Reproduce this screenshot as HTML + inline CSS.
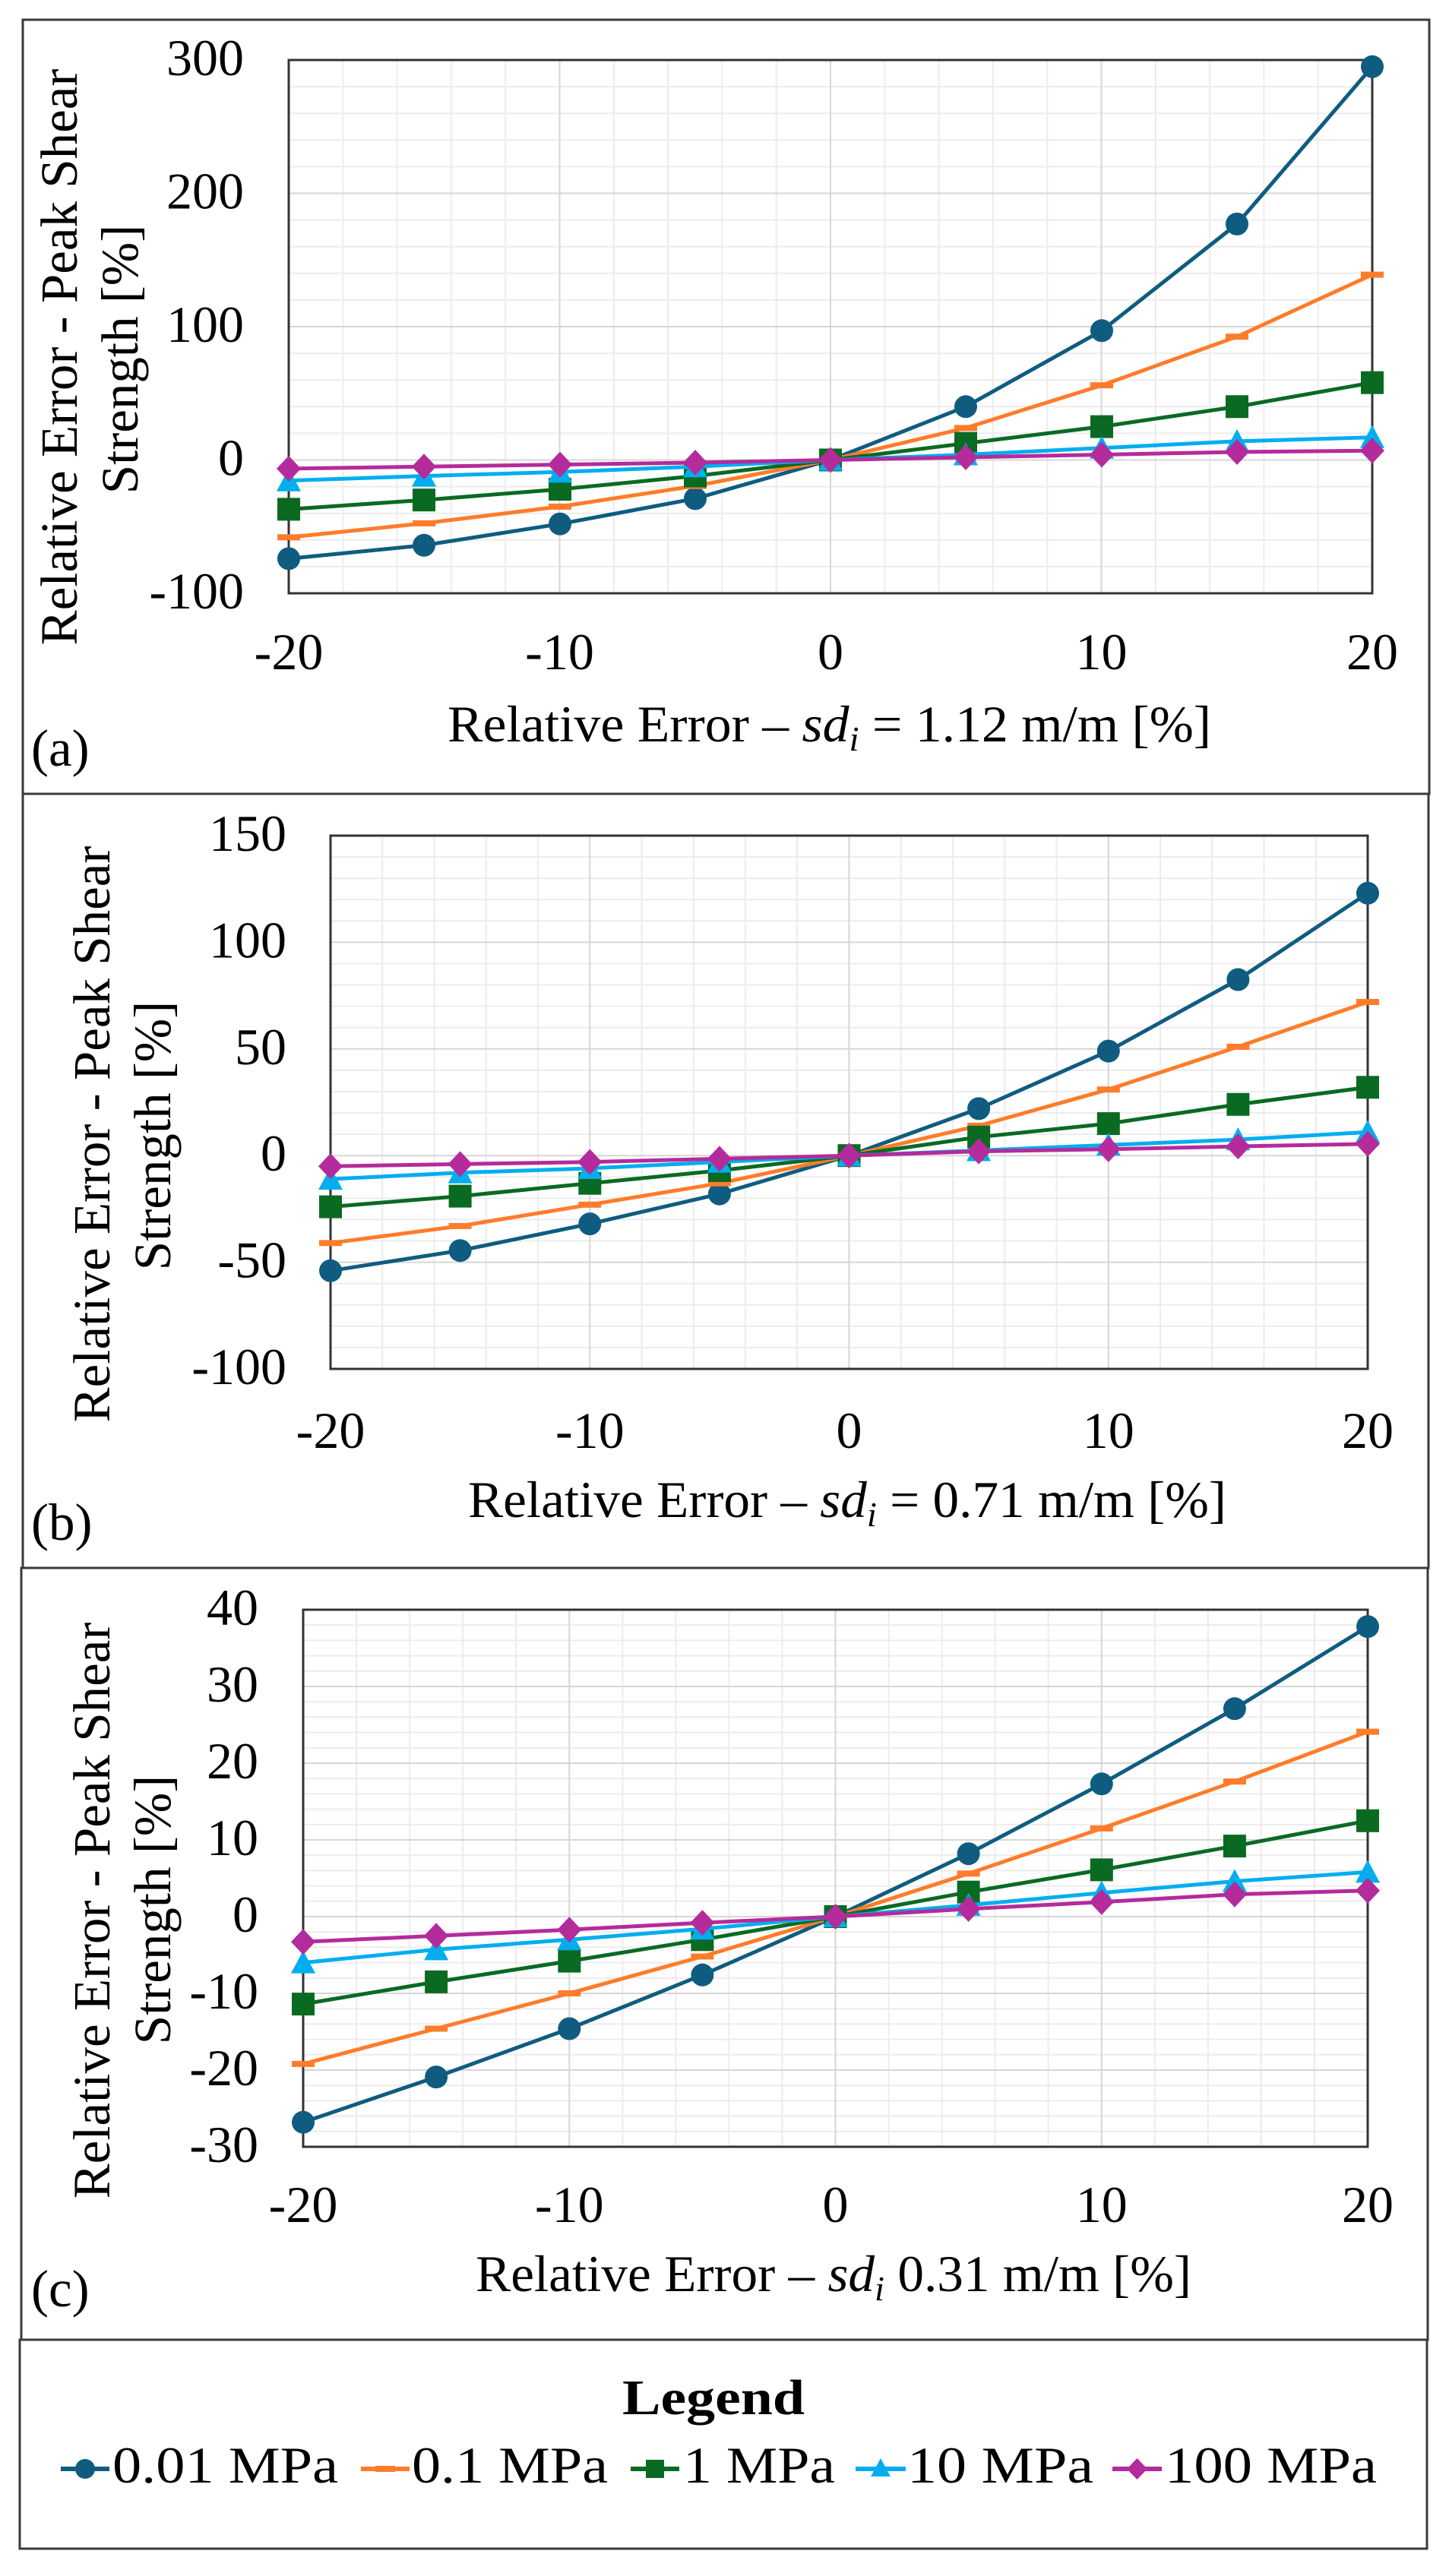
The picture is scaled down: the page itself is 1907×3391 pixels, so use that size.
<!DOCTYPE html>
<html>
<head>
<meta charset="utf-8">
<style>
  html,body{margin:0;padding:0;background:#fff;}
  svg{display:block;}
  text{font-family:"Liberation Serif","Times New Roman",serif;fill:#000;}
</style>
</head>
<body>
<svg width="1907" height="3391" viewBox="0 0 1907 3391" xmlns="http://www.w3.org/2000/svg">
<defs>
  <marker id="mC" markerUnits="userSpaceOnUse" markerWidth="34" markerHeight="34" refX="17" refY="17" overflow="visible"><circle cx="17" cy="17" r="15" fill="#0f5c80"/></marker>
  <marker id="mD" markerUnits="userSpaceOnUse" markerWidth="34" markerHeight="34" refX="17" refY="17" overflow="visible"><rect x="2" y="13" width="30" height="8" fill="#ff7c2a"/></marker>
  <marker id="mS" markerUnits="userSpaceOnUse" markerWidth="34" markerHeight="34" refX="17" refY="17" overflow="visible"><rect x="2" y="2" width="30" height="30" fill="#0a6a22"/></marker>
  <marker id="mT" markerUnits="userSpaceOnUse" markerWidth="34" markerHeight="34" refX="17" refY="17" overflow="visible"><polygon points="17,1 33,31 1,31" fill="#00aeef"/></marker>
  <marker id="mM" markerUnits="userSpaceOnUse" markerWidth="34" markerHeight="34" refX="17" refY="17" overflow="visible"><polygon points="17,0 33,17 17,34 1,17" fill="#b42b9c"/></marker>
</defs>

<!-- Panel borders -->
<rect x="30" y="26" width="1851" height="1019" fill="none" stroke="#3a3a3a" stroke-width="3"/>
<rect x="30" y="1045" width="1850" height="1019" fill="none" stroke="#3a3a3a" stroke-width="3"/>
<rect x="28" y="2064" width="1851" height="1016" fill="none" stroke="#3a3a3a" stroke-width="3"/>
<rect x="26" y="3080" width="1852" height="275" fill="none" stroke="#3a3a3a" stroke-width="3"/>

<!-- ================= PANEL A ================= -->
<g fill="none" stroke-width="2">
  <path stroke="#ececec" d="M451.3 79V781M522.6 79V781M593.9 79V781M665.2 79V781M807.8 79V781M879.1 79V781M950.4 79V781M1021.7 79V781M1164.3 79V781M1235.6 79V781M1306.9 79V781M1378.2 79V781M1520.8 79V781M1592.1 79V781M1663.4 79V781M1734.7 79V781
  M380 114.1H1806M380 149.2H1806M380 184.3H1806M380 219.4H1806M380 289.6H1806M380 324.7H1806M380 359.8H1806M380 394.9H1806M380 465.1H1806M380 500.2H1806M380 535.3H1806M380 570.4H1806M380 640.6H1806M380 675.7H1806M380 710.8H1806M380 745.9H1806"/>
  <path stroke="#d6d6d6" d="M736.5 79V781M1093 79V781M1449.5 79V781M380 254.5H1806M380 430H1806M380 605.5H1806"/>
</g>
<rect x="380" y="79" width="1426" height="702" fill="none" stroke="#333" stroke-width="3"/>
<g fill="none" stroke-width="5" stroke-linejoin="round">
  <polyline stroke="#0f5c80" marker-start="url(#mC)" marker-mid="url(#mC)" marker-end="url(#mC)" points="380,735.4 558,717.8 737,689.7 915,656.4 1093,605.5 1271,535.3 1450,435.3 1628,294.9 1806,87.8"/>
  <polyline stroke="#ff7c2a" marker-start="url(#mD)" marker-mid="url(#mD)" marker-end="url(#mD)" points="380,707.3 558,688.9 737,666.9 915,639.7 1093,605.5 1271,563.4 1450,507.2 1628,443.2 1806,361.6"/>
  <polyline stroke="#0a6a22" marker-start="url(#mS)" marker-mid="url(#mS)" marker-end="url(#mS)" points="380,670.4 558,658.2 737,644.1 915,626.6 1093,605.5 1271,583.6 1450,561.6 1628,535.3 1806,503.7"/>
  <polyline stroke="#00aeef" marker-start="url(#mT)" marker-mid="url(#mT)" marker-end="url(#mT)" points="380,632.7 558,626.6 737,621.3 915,614.3 1093,605.5 1271,598.5 1450,589.7 1628,580.9 1806,575.7"/>
  <polyline stroke="#b42b9c" marker-start="url(#mM)" marker-mid="url(#mM)" marker-end="url(#mM)" points="380,616.9 558,614.3 737,611.6 915,609 1093,605.5 1271,602 1450,598.5 1628,595 1806,593.2"/>
</g>
<g font-size="68" text-anchor="end">
  <text x="321" y="99">300</text>
  <text x="321" y="274.5">200</text>
  <text x="321" y="450">100</text>
  <text x="321" y="625.5">0</text>
  <text x="321" y="801">-100</text>
</g>
<g font-size="68" text-anchor="middle">
  <text x="380" y="881">-20</text>
  <text x="736.5" y="881">-10</text>
  <text x="1093" y="881">0</text>
  <text x="1449.5" y="881">10</text>
  <text x="1806" y="881">20</text>
</g>
<g font-size="69" text-anchor="middle">
  <text transform="translate(101,470) rotate(-90)">Relative Error - Peak Shear</text>
  <text transform="translate(181,473) rotate(-90)">Strength [%]</text>
</g>
<text x="589" y="976" font-size="68" textLength="1005" lengthAdjust="spacingAndGlyphs">Relative Error – <tspan font-style="italic">sd</tspan><tspan font-style="italic" font-size="46" dy="12">i</tspan><tspan dy="-12"> = 1.12 m/m [%]</tspan></text>
<text x="41" y="1008" font-size="69">(a)</text>

<!-- ================= PANEL B ================= -->
<g fill="none" stroke-width="2">
  <path stroke="#ececec" d="M503.25 1100V1802M571.5 1100V1802M639.75 1100V1802M708 1100V1802M844.5 1100V1802M912.75 1100V1802M981 1100V1802M1049.25 1100V1802M1185.75 1100V1802M1254 1100V1802M1322.25 1100V1802M1390.5 1100V1802M1527 1100V1802M1595.25 1100V1802M1663.5 1100V1802M1731.75 1100V1802
  M435 1128.1H1800M435 1156.2H1800M435 1184.2H1800M435 1212.3H1800M435 1268.5H1800M435 1296.6H1800M435 1324.6H1800M435 1352.7H1800M435 1408.9H1800M435 1437H1800M435 1465H1800M435 1493.1H1800M435 1549.3H1800M435 1577.4H1800M435 1605.4H1800M435 1633.5H1800M435 1689.7H1800M435 1717.8H1800M435 1745.8H1800M435 1773.9H1800"/>
  <path stroke="#d6d6d6" d="M776.25 1100V1802M1117.5 1100V1802M1458.75 1100V1802M435 1240.4H1800M435 1380.8H1800M435 1521.2H1800M435 1661.6H1800"/>
</g>
<rect x="435" y="1100" width="1365" height="702" fill="none" stroke="#333" stroke-width="3"/>
<g fill="none" stroke-width="5" stroke-linejoin="round">
  <polyline stroke="#0f5c80" marker-start="url(#mC)" marker-mid="url(#mC)" marker-end="url(#mC)" points="435,1672.8 605.6,1646.2 776.3,1611.1 946.9,1571.7 1117.5,1521.2 1288.1,1459.4 1458.8,1383.6 1629.4,1289.5 1800,1175.8"/>
  <polyline stroke="#ff7c2a" marker-start="url(#mD)" marker-mid="url(#mD)" marker-end="url(#mD)" points="435,1636.3 605.6,1613.9 776.3,1585.8 946.9,1557.7 1117.5,1521.2 1288.1,1481.9 1458.8,1434.2 1629.4,1378 1800,1319"/>
  <polyline stroke="#0a6a22" marker-start="url(#mS)" marker-mid="url(#mS)" marker-end="url(#mS)" points="435,1588.6 605.6,1574.6 776.3,1557.7 946.9,1540.9 1117.5,1521.2 1288.1,1496.8 1458.8,1479.1 1629.4,1453.8 1800,1431.3"/>
  <polyline stroke="#00aeef" marker-start="url(#mT)" marker-mid="url(#mT)" marker-end="url(#mT)" points="435,1552.1 605.6,1543.7 776.3,1538 946.9,1529.6 1117.5,1521.2 1288.1,1514.5 1458.8,1507.2 1629.4,1500.1 1800,1490.3"/>
  <polyline stroke="#b42b9c" marker-start="url(#mM)" marker-mid="url(#mM)" marker-end="url(#mM)" points="435,1535.2 605.6,1532.4 776.3,1529.6 946.9,1525.4 1117.5,1521.2 1288.1,1515.6 1458.8,1512.8 1629.4,1509.1 1800,1505.8"/>
</g>
<g font-size="68" text-anchor="end">
  <text x="377" y="1120">150</text>
  <text x="377" y="1260.4">100</text>
  <text x="377" y="1400.8">50</text>
  <text x="377" y="1541.2">0</text>
  <text x="377" y="1681.6">-50</text>
  <text x="377" y="1822">-100</text>
</g>
<g font-size="68" text-anchor="middle">
  <text x="435" y="1906">-20</text>
  <text x="776.3" y="1906">-10</text>
  <text x="1117.5" y="1906">0</text>
  <text x="1458.8" y="1906">10</text>
  <text x="1800" y="1906">20</text>
</g>
<g font-size="69" text-anchor="middle">
  <text transform="translate(144,1493) rotate(-90)">Relative Error - Peak Shear</text>
  <text transform="translate(224,1495) rotate(-90)">Strength [%]</text>
</g>
<text x="616" y="1997" font-size="68" textLength="998" lengthAdjust="spacingAndGlyphs">Relative Error – <tspan font-style="italic">sd</tspan><tspan font-style="italic" font-size="46" dy="12">i</tspan><tspan dy="-12"> = 0.71 m/m [%]</tspan></text>
<text x="41" y="2027" font-size="69">(b)</text>

<!-- ================= PANEL C ================= -->
<g fill="none" stroke-width="2">
  <path stroke="#ececec" d="M469.05 2119V2826M539.1 2119V2826M609.15 2119V2826M679.2 2119V2826M819.3 2119V2826M889.35 2119V2826M959.4 2119V2826M1029.45 2119V2826M1169.55 2119V2826M1239.6 2119V2826M1309.65 2119V2826M1379.7 2119V2826M1519.8 2119V2826M1589.85 2119V2826M1659.9 2119V2826M1729.95 2119V2826
  M399 2139.2H1800M399 2159.4H1800M399 2179.6H1800M399 2199.8H1800M399 2240.2H1800M399 2260.4H1800M399 2280.6H1800M399 2300.8H1800M399 2341.2H1800M399 2361.4H1800M399 2381.6H1800M399 2401.8H1800M399 2442.2H1800M399 2462.4H1800M399 2482.6H1800M399 2502.8H1800M399 2543.2H1800M399 2563.4H1800M399 2583.6H1800M399 2603.8H1800M399 2644.2H1800M399 2664.4H1800M399 2684.6H1800M399 2704.8H1800M399 2745.2H1800M399 2765.4H1800M399 2785.6H1800M399 2805.8H1800"/>
  <path stroke="#d6d6d6" d="M749.25 2119V2826M1099.5 2119V2826M1449.75 2119V2826M399 2220H1800M399 2321H1800M399 2422H1800M399 2523H1800M399 2624H1800M399 2725H1800"/>
</g>
<rect x="399" y="2119" width="1401" height="707" fill="none" stroke="#333" stroke-width="3"/>
<g fill="none" stroke-width="5" stroke-linejoin="round">
  <polyline stroke="#0f5c80" marker-start="url(#mC)" marker-mid="url(#mC)" marker-end="url(#mC)" points="399,2793.7 574.1,2734.1 749.3,2670.5 924.4,2599.8 1099.5,2523 1274.6,2440.2 1449.8,2348.3 1624.9,2249.3 1800,2141.2"/>
  <polyline stroke="#ff7c2a" marker-start="url(#mD)" marker-mid="url(#mD)" marker-end="url(#mD)" points="399,2716.9 574.1,2670.5 749.3,2624 924.4,2575.5 1099.5,2523 1274.6,2466.4 1449.8,2406.9 1624.9,2345.2 1800,2279.6"/>
  <polyline stroke="#0a6a22" marker-start="url(#mS)" marker-mid="url(#mS)" marker-end="url(#mS)" points="399,2638.1 574.1,2608.9 749.3,2581.6 924.4,2553.3 1099.5,2523 1274.6,2490.7 1449.8,2461.4 1624.9,2430.1 1800,2396.8"/>
  <polyline stroke="#00aeef" marker-start="url(#mT)" marker-mid="url(#mT)" marker-end="url(#mT)" points="399,2583.6 574.1,2566.4 749.3,2553.3 924.4,2539.2 1099.5,2523 1274.6,2507.9 1449.8,2491.7 1624.9,2476.5 1800,2464.4"/>
  <polyline stroke="#b42b9c" marker-start="url(#mM)" marker-mid="url(#mM)" marker-end="url(#mM)" points="399,2556.3 574.1,2548.3 749.3,2540.2 924.4,2531.1 1099.5,2523 1274.6,2512.9 1449.8,2503.8 1624.9,2493.7 1800,2488.7"/>
</g>
<g font-size="68" text-anchor="end">
  <text x="340" y="2139">40</text>
  <text x="340" y="2240">30</text>
  <text x="340" y="2341">20</text>
  <text x="340" y="2442">10</text>
  <text x="340" y="2543">0</text>
  <text x="340" y="2644">-10</text>
  <text x="340" y="2745">-20</text>
  <text x="340" y="2846">-30</text>
</g>
<g font-size="68" text-anchor="middle">
  <text x="399" y="2925">-20</text>
  <text x="749.3" y="2925">-10</text>
  <text x="1099.5" y="2925">0</text>
  <text x="1449.8" y="2925">10</text>
  <text x="1800" y="2925">20</text>
</g>
<g font-size="69" text-anchor="middle">
  <text transform="translate(144,2515) rotate(-90)">Relative Error - Peak Shear</text>
  <text transform="translate(224,2514) rotate(-90)">Strength [%]</text>
</g>
<text x="626" y="3016" font-size="68" textLength="942" lengthAdjust="spacingAndGlyphs">Relative Error – <tspan font-style="italic">sd</tspan><tspan font-style="italic" font-size="46" dy="12">i</tspan><tspan dy="-12"> 0.31 m/m [%]</tspan></text>
<text x="41" y="3036" font-size="69">(c)</text>

<!-- ================= LEGEND ================= -->
<text x="939" y="3178" font-size="66" font-weight="bold" text-anchor="middle" textLength="240" lengthAdjust="spacingAndGlyphs">Legend</text>
<g stroke-width="6">
  <line x1="80" y1="3250" x2="144" y2="3250" stroke="#0f5c80"/>
  <line x1="475" y1="3250" x2="539" y2="3250" stroke="#ff7c2a"/>
  <line x1="830" y1="3250" x2="894" y2="3250" stroke="#0a6a22"/>
  <line x1="1126" y1="3250" x2="1192" y2="3250" stroke="#00aeef"/>
  <line x1="1464" y1="3250" x2="1529" y2="3250" stroke="#b42b9c"/>
</g>
<circle cx="112" cy="3250" r="13" fill="#0f5c80"/>
<rect x="494" y="3246" width="26" height="8" fill="#ff7c2a"/>
<rect x="850" y="3238" width="24" height="24" fill="#0a6a22"/>
<polygon points="1159,3236 1172,3260 1146,3260" fill="#00aeef"/>
<polygon points="1496.5,3236 1510,3250 1496.5,3264 1483,3250" fill="#b42b9c"/>
<g font-size="68">
  <text x="148" y="3268" textLength="297" lengthAdjust="spacingAndGlyphs">0.01 MPa</text>
  <text x="542" y="3268" textLength="258" lengthAdjust="spacingAndGlyphs">0.1 MPa</text>
  <text x="899" y="3268" textLength="200" lengthAdjust="spacingAndGlyphs">1 MPa</text>
  <text x="1194" y="3268" textLength="245" lengthAdjust="spacingAndGlyphs">10 MPa</text>
  <text x="1533" y="3268" textLength="279" lengthAdjust="spacingAndGlyphs">100 MPa</text>
</g>
</svg>
</body>
</html>
